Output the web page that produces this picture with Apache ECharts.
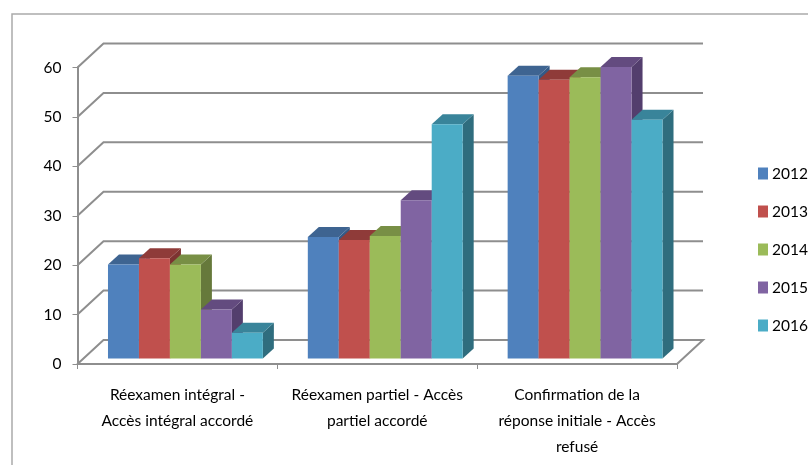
<!DOCTYPE html>
<html>
<head>
<meta charset="utf-8">
<style>html,body{margin:0;padding:0;background:#fff}#c{width:808px;height:465px}</style>
<script src="https://cdn.jsdelivr.net/npm/echarts@6/dist/echarts.min.js"></script>
</head>
<body>
<div id="c"></div>
<script>
const categories = [
  'Réexamen intégral -\nAccès intégral accordé',
  'Réexamen partiel - Accès\npartiel accordé',
  'Confirmation de la\nréponse initiale - Accès\nrefusé'
];
const years = ['2012', '2013', '2014', '2015', '2016'];
const values2012 = [19, 24.6, 57.2];
const values2013 = [20.3, 24, 56.4];
const values2014 = [19, 24.8, 56.9];
const values2015 = [9.9, 32, 59];
const values2016 = [5.2, 47.4, 48.3];
const yTicks = [0, 10, 20, 30, 40, 50, 60];

const frontColors = ['#4F81BD', '#C0504D', '#9BBB59', '#8064A2', '#4BACC6'];
const topColors = ['#3E6491', '#8F3B39', '#788F45', '#634B7F', '#39849A'];
const sideColors = ['#335A87', '#7D3331', '#66793B', '#533E6D', '#2F6D7E'];

const WALL_DX = 26, WALL_DY = 24;   // offset of the back wall from the front plane
const BAR_DX = 11, BAR_DY = 10;     // visible depth of a column
const BAR_SHIFT_X = 8, BAR_SHIFT_Y = 5.5; // columns stand inside the floor
const BAR_SHARE = 0.155;            // column width as a share of a category band

function poly(points, fill) {
  return { type: 'polygon', shape: { points }, style: { fill }, silent: true };
}

function renderWall(params, api) {
  const cs = params.coordSys;
  const y = api.coord([0, api.value(1)])[1];
  const x0 = cs.x, x1 = cs.x + cs.width;
  const pts = [[x0, y], [x0 + WALL_DX, y - WALL_DY], [x1 + WALL_DX, y - WALL_DY]];
  if (api.value(1) === 0) pts.push([x1, y]);
  return {
    type: 'polyline',
    shape: { points: pts },
    style: { stroke: '#8E8E8E', lineWidth: 2, fill: null },
    silent: true
  };
}

function makeColumnRenderer(s) {
  return function (params, api) {
    const idx = api.value(0);
    const band = api.size([1, 0])[0];
    const w = band * BAR_SHARE;
    const center = api.coord([idx, 0]);
    const top = api.coord([idx, api.value(1)]);
    const xl = center[0] + BAR_SHIFT_X + (s - 2.5) * w;
    const xr = xl + w;
    const yb = center[1] - BAR_SHIFT_Y;
    const yt = top[1] - BAR_SHIFT_Y;
    return {
      type: 'group',
      children: [
        poly([[xr, yb], [xr + BAR_DX, yb - BAR_DY], [xr + BAR_DX, yt - BAR_DY], [xr, yt]], sideColors[s]),
        poly([[xl, yt], [xl + BAR_DX, yt - BAR_DY], [xr + BAR_DX, yt - BAR_DY], [xr, yt]], topColors[s]),
        poly([[xl, yb], [xr, yb], [xr, yt], [xl, yt]], frontColors[s])
      ]
    };
  };
}

const allValues = [values2012, values2013, values2014, values2015, values2016];
const textFont = 'Lato, "Open Sans", sans-serif';

const chart = echarts.init(document.getElementById('c'), null, { renderer: 'canvas' });
chart.setOption({
  backgroundColor: '#fff',
  animation: false,
  graphic: [{
    type: 'polyline',
    shape: { points: [[12, 465], [12, 14], [808, 14]] },
    style: { stroke: '#ABABAB', lineWidth: 1.5, fill: null },
    silent: true
  }],
  grid: { left: 77.5, right: 131, top: 67.5, height: 296.5, containLabel: false },
  legend: {
    orient: 'vertical',
    left: 753,
    top: 159,
    itemWidth: 10,
    itemHeight: 12,
    itemGap: 19,
    icon: 'rect',
    data: years,
    textStyle: { fontFamily: textFont, fontSize: 15.5, color: '#000', padding: [0, 0, 0, -1], height: 19, lineHeight: 19 }
  },
  xAxis: {
    type: 'category',
    data: categories,
    axisLine: { lineStyle: { color: '#8E8E8E', width: 2 } },
    axisTick: { show: true, length: 5, lineStyle: { color: '#8E8E8E', width: 1 } },
    axisLabel: {
      interval: 0,
      margin: 18,
      fontFamily: textFont,
      fontSize: 15.5,
      lineHeight: 26,
      color: '#000'
    }
  },
  yAxis: {
    type: 'value',
    min: 0,
    max: 60,
    interval: 10,
    splitLine: { show: false },
    axisLine: { show: true, lineStyle: { color: '#8E8E8E', width: 2 } },
    axisTick: { show: true, length: 5, lineStyle: { color: '#8E8E8E', width: 1 } },
    axisLabel: { margin: 16, fontFamily: textFont, fontSize: 15.5, color: '#000' }
  },
  series: [
    {
      name: 'parois',
      type: 'custom',
      renderItem: renderWall,
      data: yTicks.map(t => [0, t]),
      encode: { x: 0, y: 1 },
      silent: true
    }
  ].concat(years.map((year, s) => ({
    name: year,
    type: 'custom',
    renderItem: makeColumnRenderer(s),
    itemStyle: { color: frontColors[s] },
    data: allValues[s].map((v, i) => [i, v]),
    encode: { x: 0, y: 1 }
  })))
});
</script>
</body>
</html>
